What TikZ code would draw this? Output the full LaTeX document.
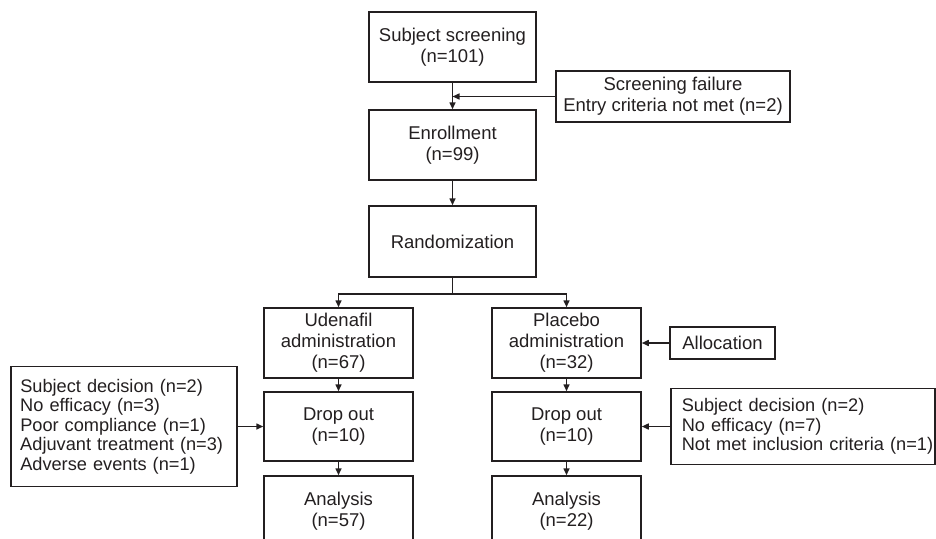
\documentclass[tikz,border=0pt]{standalone}
\usepackage{fontspec}
\setmainfont{Liberation Sans}
\usetikzlibrary{arrows.meta}
\definecolor{ink}{HTML}{231F20}
\tikzset{
  box/.style={draw=ink, line width=1.5pt, text=ink, inner sep=0pt, align=center,
    font=\fontsize{18.5}{21}\selectfont},
  listbox/.style={box, align=left, anchor=west, inner xsep=0pt, font=\fontsize{18.2}{19.6}\selectfont},
  arr/.style={draw=ink, line width=1.5pt, -{Triangle[length=7pt,width=6pt]}},
  ln/.style={draw=ink, line width=1.5pt}
}
\newcommand{\li}[2]{\hspace*{#1}\mbox{#2}}
\begin{document}
\begin{tikzpicture}[x=1pt,y=-1pt]
\useasboundingbox (0,0) rectangle (936,538);
\clip (0,0) rectangle (936,538);
\node[box, minimum width=167pt, minimum height=70pt] (scr) at (452.5,47) {Subject screening\\(n=101)};
\node[box, minimum width=234pt, minimum height=51pt] (fail) at (673,96.5) {Screening failure\\Entry criteria not met (n=2)};
\node[box, minimum width=167pt, minimum height=70pt] (enr) at (452.5,145) {Enrollment\\(n=99)};
\node[box, minimum width=167pt, minimum height=71pt] (rand) at (452.5,241.5) {Randomization};
\coordinate (br) at (452.5,294);
\node[box, minimum width=149pt, minimum height=70pt] (ude) at (338.5,343) {Udenafil\\administration\\(n=67)};
\node[box, minimum width=149pt, minimum height=70pt] (pla) at (566.5,343) {Placebo\\administration\\(n=32)};
\node[box, minimum width=105pt, minimum height=32pt] (alloc) at (722.5,343) {Allocation};
\node[box, minimum width=149pt, minimum height=69pt] (dl) at (338.5,426.5) {Drop out\\(n=10)};
\node[box, minimum width=149pt, minimum height=69pt] (dr) at (566.5,426.5) {Drop out\\(n=10)};
\node[box, minimum width=149pt, minimum height=70pt] (al) at (338.5,511) {Analysis\\(n=57)};
\node[box, minimum width=149pt, minimum height=70pt] (ar) at (566.5,511) {Analysis\\(n=22)};
\node[listbox, text width=226pt, minimum height=120pt] (listL) at (10,426.5)
  {\li{9.5pt}{Subject decision (n=2)}\\\li{9.5pt}{No efficacy (n=3)}\\\li{9.5pt}{Poor compliance (n=1)}\\\li{9.5pt}{Adjuvant treatment (n=3)}\\\li{9.5pt}{Adverse events (n=1)}};
\node[listbox, text width=264pt, minimum height=76pt] (listR) at (670,426.5)
  {\li{11pt}{Subject decision (n=2)}\\\li{11pt}{No efficacy (n=7)}\\\li{11pt}{Not met inclusion criteria (n=1)}};
\draw[arr] (scr.south) -- (enr.north);
\draw[arr] (fail.west) -- (scr.south |- fail.west);
\draw[arr] (enr.south) -- (rand.north);
\draw[ln] (rand.south) -- (br);
\draw[arr] (br) -| (ude.north);
\draw[arr] (br) -| (pla.north);
\draw[arr] (alloc.west) -- (pla.east);
\draw[arr] (ude.south) -- (dl.north);
\draw[arr] (dl.south) -- (al.north);
\draw[arr] (pla.south) -- (dr.north);
\draw[arr] (dr.south) -- (ar.north);
\draw[arr] (listL.east) -- (dl.west);
\draw[arr] (listR.west) -- (dr.east);
\end{tikzpicture}
\end{document}
